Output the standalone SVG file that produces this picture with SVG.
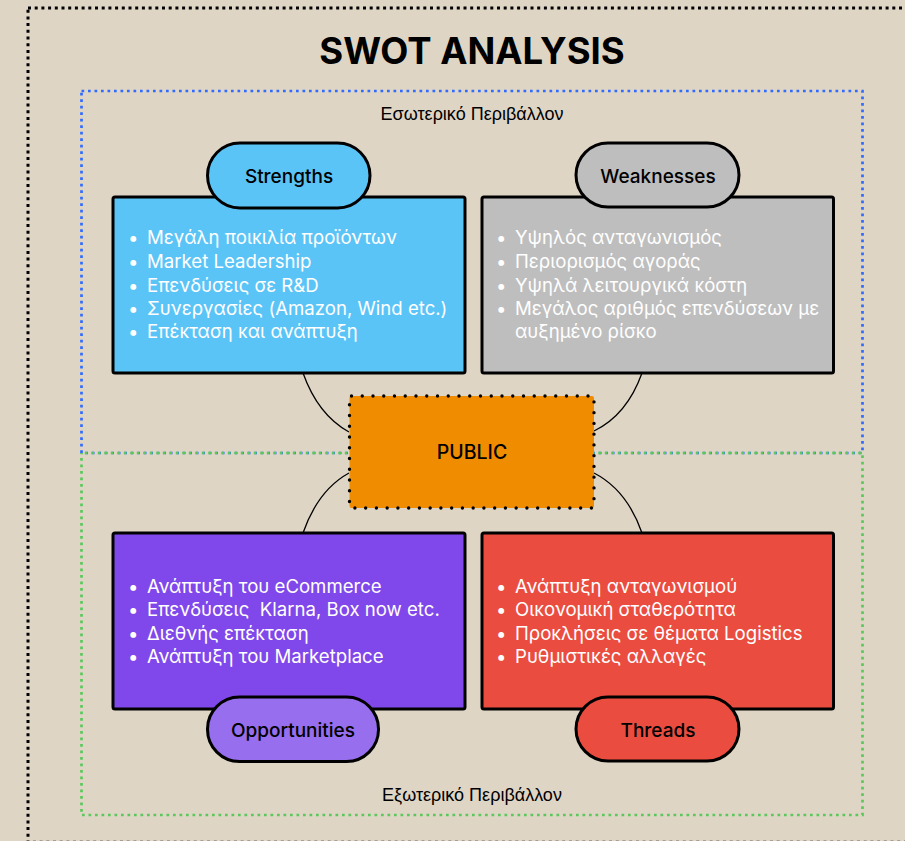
<svg xmlns="http://www.w3.org/2000/svg" width="905" height="841" viewBox="0 0 905 841">
<style>
.box{stroke:#000;stroke-width:3}
.pill{stroke:#000;stroke-width:3}
.lbl{font-family:Inter,"Noto Sans",sans-serif;font-size:19px;font-weight:500;fill:#000;text-anchor:middle}
.item{font-family:Inter,"Noto Sans",sans-serif;font-size:18.6px;fill:#fff;white-space:pre}
.env{font-family:"Liberation Sans",Arial,sans-serif;font-size:18px;fill:#000;text-anchor:middle}
.conn{fill:none;stroke:#000;stroke-width:1.3}
</style>
<rect x="0" y="0" width="905" height="841" fill="#DFD5C5"/>
<rect x="28" y="8" width="900" height="834.3" fill="none" stroke="#000" stroke-width="3" stroke-dasharray="3 3.7"/>
<text x="472" y="64" style="font-family:Inter,'Noto Sans',sans-serif;font-size:36.5px;font-weight:700;fill:#000;text-anchor:middle">SWOT ANALYSIS</text>
<g id="internal">
<rect x="81.5" y="91" width="781" height="362" fill="none" stroke="#2F6BFF" stroke-width="2.7" stroke-dasharray="2.7 3.8"/>
<text class="env" x="472" y="120">Εσωτερικό Περιβάλλον</text>
</g>
<g id="external">
<rect x="81.5" y="453" width="781" height="362" fill="none" stroke="#5CC85C" stroke-width="2.7" stroke-dasharray="2.7 3.8" stroke-dashoffset="3.2"/>
<text class="env" x="472" y="801">Εξωτερικό Περιβάλλον</text>
</g>
<g id="connectors">
<path class="conn" d="M303 373 Q318 415 349 432"/>
<path class="conn" d="M349 473 Q318 490 303 533"/>
<path class="conn" d="M642 373 Q627 415 594 431"/>
<path class="conn" d="M594 473 Q627 490 642 533"/>
</g>
<g id="strengths">
<rect class="box" x="113" y="197" width="352" height="176" rx="2" fill="#5BC4F7"/>
<rect class="pill" x="207.5" y="143" width="162.5" height="65" rx="32.5" fill="#5BC4F7"/>
<text class="lbl" x="289" y="183">Strengths</text>
<g class="item">
<text x="128" y="244">•</text><text x="147" y="244">Μεγάλη ποικιλία προϊόντων</text>
<text x="128" y="268">•</text><text x="147" y="268">Market Leadership</text>
<text x="128" y="291.5">•</text><text x="147" y="291.5">Επενδύσεις σε R&amp;D</text>
<text x="128" y="315">•</text><text x="147" y="315">Συνεργασίες (Amazon, Wind etc.)</text>
<text x="128" y="338">•</text><text x="147" y="338">Επέκταση και ανάπτυξη</text>
</g>
</g>
<g id="weaknesses">
<rect class="box" x="482" y="197" width="351.5" height="176" rx="2" fill="#BEBEBE"/>
<rect class="pill" x="576" y="143" width="163" height="64" rx="32" fill="#BEBEBE"/>
<text class="lbl" x="658" y="183">Weaknesses</text>
<g class="item">
<text x="496" y="244">•</text><text x="515" y="244">Υψηλός ανταγωνισμός</text>
<text x="496" y="268">•</text><text x="515" y="268">Περιορισμός αγοράς</text>
<text x="496" y="291.5">•</text><text x="515" y="291.5">Υψηλά λειτουργικά κόστη</text>
<text x="496" y="315">•</text><text x="515" y="315">Μεγάλος αριθμός επενδύσεων με</text>
<text x="515" y="338">αυξημένο ρίσκο</text>
</g>
</g>
<g id="public">
<rect x="349.5" y="396" width="244.5" height="112" rx="2" fill="#F08C00" stroke="#000" stroke-width="3.4" stroke-dasharray="0 10.75" stroke-linecap="round"/>
<text class="lbl" x="472" y="459" style="font-size:19.5px">PUBLIC</text>
</g>
<g id="opportunities">
<rect class="box" x="113" y="533" width="352" height="176" rx="2" fill="#8048EA"/>
<rect class="pill" x="207.5" y="697" width="171" height="64.5" rx="32" fill="#976EEE"/>
<text class="lbl" x="293" y="737">Opportunities</text>
<g class="item">
<text x="128" y="593">•</text><text x="147" y="593">Ανάπτυξη του eCommerce</text>
<text x="128" y="616">•</text><text x="147" y="616" xml:space="preserve">Επενδύσεις  Klarna, Box now etc.</text>
<text x="128" y="639.5">•</text><text x="147" y="639.5">Διεθνής επέκταση</text>
<text x="128" y="663">•</text><text x="147" y="663">Ανάπτυξη του Marketplace</text>
</g>
</g>
<g id="threads">
<rect class="box" x="482" y="533" width="351.5" height="176" rx="2" fill="#EA4D3F"/>
<rect class="pill" x="576" y="697" width="163" height="64" rx="32" fill="#EA4D3F"/>
<text class="lbl" x="658" y="737">Threads</text>
<g class="item">
<text x="496" y="593">•</text><text x="515" y="593">Ανάπτυξη ανταγωνισμού</text>
<text x="496" y="616">•</text><text x="515" y="616">Οικονομική σταθερότητα</text>
<text x="496" y="639.5">•</text><text x="515" y="639.5">Προκλήσεις σε θέματα Logistics</text>
<text x="496" y="663">•</text><text x="515" y="663">Ρυθμιστικές αλλαγές</text>
</g>
</g>
</svg>
